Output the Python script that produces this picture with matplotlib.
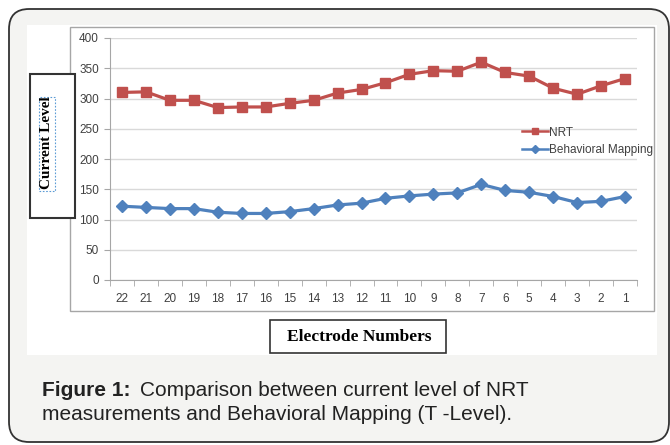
import matplotlib.pyplot as plt
from matplotlib.patches import Rectangle, FancyBboxPatch
import numpy as np

# electrode numbers (left to right)
electrodes = ['22', '21', '20', '19', '18', '17', '16', '15', '14', '13', '12',
              '11', '10', '9', '8', '7', '6', '5', '4', '3', '2', '1']
nrt = [310, 311, 297, 297, 285, 286, 286, 292, 297, 309, 315,
       326, 340, 346, 345, 360, 343, 337, 317, 307, 321, 333]
behavioral = [122, 120, 118, 118, 112, 110, 110, 113, 118, 124, 127,
              135, 139, 142, 144, 158, 148, 145, 138, 128, 130, 138]
yticks = [0, 50, 100, 150, 200, 250, 300, 350, 400]

W, H = 670, 445
fig = plt.figure(figsize=(W / 100, H / 100), dpi=100)
fig.patch.set_facecolor('white')


def box(x0, y0, x1, y1):
    # image pixel box (top-left origin) -> figure fraction rect
    return x0 / W, 1 - y1 / H, (x1 - x0) / W, (y1 - y0) / H


# outer rounded panel
x, y, w, h = box(9, 9, 669, 442)
fig.patches.append(FancyBboxPatch((x, y), w, h, boxstyle='round,pad=0,rounding_size=0.03',
                                  mutation_aspect=W / H, transform=fig.transFigure,
                                  facecolor='#f4f4f2', edgecolor='#333333', lw=1.3, zorder=0))
# white image area
x, y, w, h = box(27, 25, 657, 355)
fig.patches.append(Rectangle((x, y), w, h, transform=fig.transFigure,
                             facecolor='white', edgecolor='none', zorder=0.5))
# chart border
x, y, w, h = box(70, 27, 654, 311)
fig.patches.append(Rectangle((x, y), w, h, transform=fig.transFigure,
                             facecolor='white', edgecolor='#a6a6a6', lw=1.0, zorder=0.6))

ax = fig.add_axes([110 / W, 1 - 280 / H, (637 - 110) / W, (280 - 38) / H])
ax.set_facecolor('none')
ax.set_zorder(2)

ind = np.arange(len(electrodes))
ax.plot(ind, nrt, color='#c0504d', lw=2.3, marker='s', markersize=7.5, label='NRT', zorder=3)
ax.plot(ind, behavioral, color='#4f81bd', lw=2.3, marker='D', markersize=6, label='Behavioral Mapping', zorder=3)

ax.set_xlim(-0.5, len(electrodes) - 0.5)
ax.set_ylim(0, 400)
ax.set_yticks(yticks)
ax.set_xticks(ind)
ax.set_xticklabels(electrodes)
ax.set_xticks(np.arange(-0.5, len(electrodes), 1), minor=True)
ax.tick_params(axis='x', which='major', length=0, pad=9, labelsize=8.5, labelcolor='#404040')
ax.tick_params(axis='x', which='minor', length=4, direction='out', color='#a6a6a6')
ax.tick_params(axis='y', length=4, direction='out', color='#a6a6a6', labelsize=8.5, labelcolor='#404040', pad=4)
for t in ax.get_xticklabels() + ax.get_yticklabels():
    t.set_family('Liberation Sans')
ax.grid(axis='y', color='#d9d9d9', lw=1.0)
ax.set_axisbelow(True)
for s in ['top', 'right']:
    ax.spines[s].set_visible(False)
for s in ['left', 'bottom']:
    ax.spines[s].set_color('#a6a6a6')

leg = ax.legend(loc='upper left', bbox_to_anchor=(511 / W, 1 - 116 / H), bbox_transform=fig.transFigure,
                frameon=False, handlelength=2.2, handletextpad=0.1, labelspacing=0.45,
                prop={'family': 'Liberation Sans', 'size': 8.5})
for line in leg.get_lines():
    line.set_markersize(4.5)
    line.set_linewidth(1.8)
for t in leg.get_texts():
    t.set_color('#404040')

# y-axis title box
x, y, w, h = box(30, 74, 75, 218)
fig.patches.append(Rectangle((x, y), w, h, transform=fig.transFigure,
                             facecolor='white', edgecolor='#333333', lw=1.5, zorder=3))
x, y, w, h = box(39, 97, 55, 191)
fig.patches.append(Rectangle((x, y), w, h, transform=fig.transFigure, fill=False,
                             edgecolor='#5b9bd5', lw=0.8, ls=(0, (1.5, 1.5)), zorder=4))
fig.text(47 / W, 1 - 143 / H, 'Current Level', rotation=90, ha='center', va='center',
         family='Liberation Serif', fontweight='bold', fontsize=11, zorder=5)

# x-axis title box
x, y, w, h = box(270, 320, 446, 353)
fig.patches.append(Rectangle((x, y), w, h, transform=fig.transFigure,
                             facecolor='white', edgecolor='#333333', lw=1.2, zorder=3))
fig.text(359 / W, 1 - 337 / H, 'Electrode Numbers', ha='center', va='center',
         family='Liberation Serif', fontweight='bold', fontsize=12.5, zorder=5)

# caption
fig.text(42 / W, 1 - 390 / H, 'Figure 1:', ha='left', va='center', family='Liberation Sans',
         fontweight='bold', fontsize=15, color='#222222')
fig.text(140 / W, 1 - 390 / H, 'Comparison between current level of NRT', ha='left', va='center',
         family='Liberation Sans', fontsize=15, color='#222222')
fig.text(42 / W, 1 - 415 / H, 'measurements and Behavioral Mapping (T -Level).', ha='left', va='center',
         family='Liberation Sans', fontsize=15, color='#222222')

fig.savefig('out.png', dpi=100)
